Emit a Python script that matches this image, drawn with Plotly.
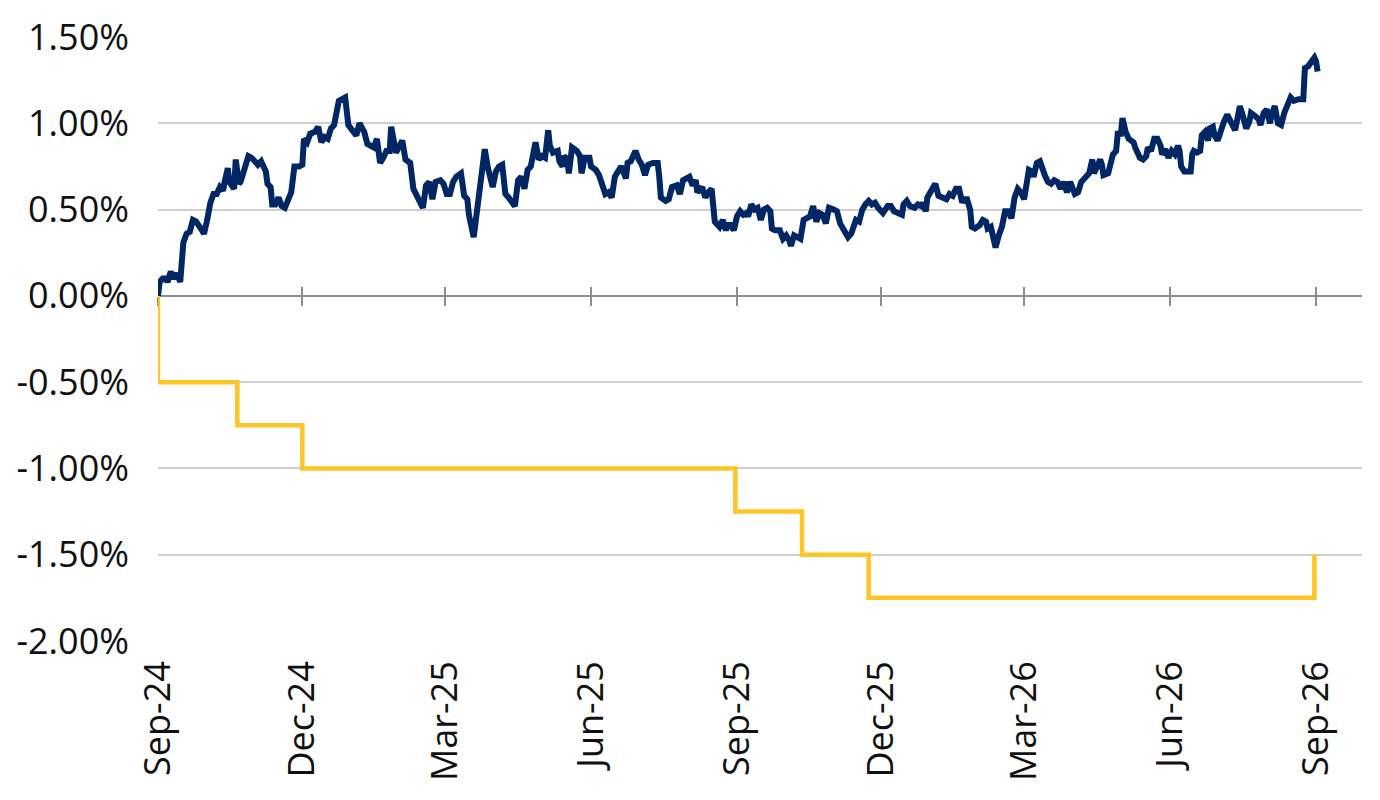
import pandas as pd
import plotly.graph_objects as go

# x axis: quarterly ticks counted from the first cut (18 Sep 2024)
START = pd.Timestamp("2024-09-18")
tick_dates = ["2024-09-18", "2024-12-18", "2025-03-18", "2025-06-18", "2025-09-18",
              "2025-12-18", "2026-03-18", "2026-06-18", "2026-09-18"]
tick_labels = ["Sep-24", "Dec-24", "Mar-25", "Jun-25", "Sep-25",
               "Dec-25", "Mar-26", "Jun-26", "Sep-26"]
x_end = "2026-10-17"

y_tickvals = [-2.0, -1.5, -1.0, -0.5, 0.0, 0.5, 1.0, 1.5]
y_ticktext = ["-2.00%", "-1.50%", "-1.00%", "-0.50%", "0.00%", "0.50%", "1.00%", "1.50%"]

# navy series: days since start, value in %
series_days = [
    0, 1, 3, 5, 6, 8, 10, 12, 14, 16,
    18, 20, 22, 24, 27, 29, 31, 33, 35, 37,
    39, 41, 42, 44, 45, 48, 49, 51, 52, 55,
    57, 59, 61, 63, 65, 68, 69, 71, 72, 74,
    76, 78, 80, 82, 84, 86, 89, 91, 92, 94,
    96, 99, 101, 103, 105, 107, 109, 111, 112, 114,
    116, 118, 120, 122,
    125, 127, 130, 132, 134, 136, 138, 140, 142, 144,
    146, 147, 150, 152, 154, 156, 159, 161, 163, 165,
    167, 169, 171, 173, 175, 178, 180, 182, 184, 186,
    188, 191, 193, 195, 196, 199, 201, 203, 206, 208,
    211, 213, 215, 217, 219, 221, 223, 225, 227, 229,
    231, 233, 235, 237, 238, 240, 242, 244,
    246, 247, 249, 252, 253, 255, 256, 258, 259, 261,
    264, 266, 267, 269, 272, 273, 276, 278, 280, 282,
    284, 286, 288, 290, 292, 295, 296, 298, 301, 303,
    305, 307, 309, 312, 315, 316, 317, 320, 322, 324,
    327, 329, 331, 335, 337, 339, 340, 343, 345, 347,
    349, 351, 354, 356, 358, 359, 361, 363, 365, 367,
    369, 371, 372, 374, 376, 378, 380, 382, 384, 386,
    387, 389, 392, 394, 396, 398, 399, 401, 403, 405,
    407, 409, 411, 413, 415, 417, 419, 421, 423, 426,
    428, 430, 432, 435, 437, 439, 440, 442, 444, 446,
    448, 450, 452, 454, 457, 460, 462, 464, 466, 469,
    470, 472, 474, 477, 479, 481, 482, 484, 485, 488,
    490,
    492, 494, 497, 499, 501, 503, 505, 507, 508, 510,
    512, 513, 515, 518, 520, 522, 523, 525, 526, 528,
    530, 532, 534, 536, 538, 540, 542, 544, 546, 547,
    549, 551, 552, 554, 556, 559, 561, 563, 565, 567,
    569, 571, 573, 575, 578, 580, 582, 584, 586, 587,
    589, 590, 592, 594, 595, 596, 599, 600, 602, 604,
    605, 607, 608, 610, 612,
    615, 616, 619, 621, 623, 624, 626, 628, 630, 632,
    633, 635, 637, 639, 641, 643, 644, 645, 647, 649,
    651, 652, 653, 655, 657, 658, 660, 662, 663, 665,
    666, 668, 670, 672, 674, 676, 679, 681, 682, 684,
    686, 688, 689, 692, 694, 695, 697, 699, 701, 702,
    704, 706, 708, 710, 712, 714, 716, 719, 722, 723,
    725, 727, 729, 730, 731,
]
series_values = [
    0.00, 0.08, 0.10, 0.10, 0.08, 0.14, 0.10, 0.13, 0.08, 0.31,
    0.36, 0.37, 0.44, 0.43, 0.39, 0.36, 0.44, 0.54, 0.59, 0.59,
    0.63, 0.61, 0.66, 0.74, 0.66, 0.62, 0.79, 0.65, 0.66, 0.76,
    0.81, 0.80, 0.78, 0.76, 0.78, 0.72, 0.65, 0.63, 0.53, 0.53,
    0.57, 0.52, 0.51, 0.56, 0.60, 0.75, 0.75, 0.76, 0.91, 0.89,
    0.94, 0.95, 0.98, 0.89, 0.92, 0.91, 0.97, 0.99, 1.04, 1.13,
    1.14, 1.15, 0.99, 0.97,
    0.93, 1.00, 0.95, 0.88, 0.87, 0.86, 0.91, 0.77, 0.80, 0.84,
    0.84, 0.98, 0.83, 0.86, 0.90, 0.79, 0.77, 0.62, 0.58, 0.53,
    0.51, 0.64, 0.66, 0.56, 0.66, 0.67, 0.65, 0.59, 0.59, 0.66,
    0.69, 0.71, 0.58, 0.56, 0.47, 0.34, 0.49, 0.68, 0.85, 0.74,
    0.63, 0.72, 0.75, 0.76, 0.59, 0.57, 0.55, 0.52, 0.67, 0.69,
    0.62, 0.73, 0.75, 0.83, 0.89, 0.79, 0.81, 0.80,
    0.96, 0.87, 0.83, 0.84, 0.78, 0.75, 0.81, 0.79, 0.71, 0.86,
    0.84, 0.81, 0.71, 0.80, 0.80, 0.75, 0.73, 0.70, 0.65, 0.59,
    0.60, 0.57, 0.69, 0.73, 0.75, 0.68, 0.77, 0.78, 0.84, 0.79,
    0.76, 0.70, 0.76, 0.77, 0.77, 0.69, 0.57, 0.55, 0.56, 0.63,
    0.64, 0.59, 0.67, 0.69, 0.64, 0.67, 0.60, 0.63, 0.57, 0.60,
    0.62, 0.43, 0.40, 0.44, 0.38, 0.41, 0.41, 0.38, 0.46, 0.49,
    0.47, 0.48, 0.46, 0.53, 0.50, 0.51, 0.44, 0.50, 0.51, 0.49,
    0.39, 0.38, 0.38, 0.33, 0.35, 0.32, 0.29, 0.35, 0.34, 0.33,
    0.44, 0.45, 0.46, 0.52, 0.43, 0.48, 0.47, 0.42, 0.51, 0.50,
    0.49, 0.42, 0.38, 0.34, 0.36, 0.41, 0.44, 0.43, 0.50, 0.53,
    0.55, 0.53, 0.54, 0.51, 0.48, 0.52, 0.52, 0.49, 0.48, 0.47,
    0.53, 0.55, 0.52, 0.51, 0.53, 0.52, 0.54, 0.49, 0.57, 0.61,
    0.65,
    0.58, 0.57, 0.56, 0.59, 0.58, 0.62, 0.62, 0.54, 0.56, 0.56,
    0.50, 0.40, 0.39, 0.41, 0.44, 0.43, 0.39, 0.40, 0.37, 0.28,
    0.35, 0.40, 0.49, 0.49, 0.45, 0.57, 0.62, 0.60, 0.56, 0.61,
    0.73, 0.72, 0.69, 0.77, 0.78, 0.70, 0.66, 0.65, 0.67, 0.66,
    0.62, 0.66, 0.60, 0.66, 0.59, 0.60, 0.66, 0.68, 0.70, 0.71,
    0.79, 0.71, 0.75, 0.79, 0.76, 0.70, 0.71, 0.75, 0.82, 0.84,
    0.94, 0.94, 1.03, 0.95, 0.91,
    0.89, 0.86, 0.80, 0.79, 0.81, 0.86, 0.84, 0.91, 0.91, 0.87,
    0.82, 0.85, 0.80, 0.84, 0.82, 0.87, 0.84, 0.75, 0.72, 0.72,
    0.72, 0.82, 0.84, 0.83, 0.84, 0.93, 0.95, 0.90, 0.97, 0.98,
    0.93, 0.90, 0.97, 1.01, 1.05, 1.01, 0.96, 1.05, 1.10, 1.04,
    0.97, 1.01, 1.06, 1.04, 1.02, 0.99, 1.06, 1.08, 1.00, 1.05,
    1.10, 1.00, 0.99, 1.06, 1.11, 1.15, 1.13, 1.14, 1.14, 1.32,
    1.33, 1.35, 1.38, 1.36, 1.30,
]

# cumulative policy rate change (step line)
policy_dates = ["2024-09-17", "2024-09-18", "2024-11-07", "2024-12-18", "2025-09-17",
                "2025-10-29", "2025-12-10", "2026-09-17"]
policy_change = [0.00, -0.50, -0.75, -1.00, -1.25, -1.50, -1.75, -1.50]

assert len(series_days) == len(series_values)

NAVY = "#002664"
GOLD = "#FFC526"
AXIS_GREY = "#8c8c8c"
GRID_GREY = "#cfcfcf"
FONT = dict(family="Open Sans", size=36, color="#111111")

series_dates = START + pd.to_timedelta(series_days, unit="D")
x_range = [START, pd.Timestamp(x_end)]
zero_pos = (0 - y_tickvals[0]) / (y_tickvals[-1] - y_tickvals[0])

fig = go.Figure()

fig.add_trace(go.Scatter(
    x=policy_dates, y=policy_change,
    mode="lines", line=dict(color=GOLD, width=4.5, shape="hv"),
    showlegend=False, hoverinfo="skip"
))
fig.add_trace(go.Scatter(
    x=series_dates, y=series_values,
    mode="lines", line=dict(color=NAVY, width=6),
    showlegend=False
))
# empty traces so the zero-line tick axes get drawn
for ax in ["x2", "x3"]:
    fig.add_trace(go.Scatter(x=[None], y=[None], xaxis=ax, showlegend=False, hoverinfo="skip"))

tick_axis = dict(
    type="date", range=x_range, overlaying="x", anchor="free", position=zero_pos,
    tickvals=tick_dates, showticklabels=False, showgrid=False, zeroline=False,
    ticklen=9, tickwidth=2, tickcolor=AXIS_GREY, layer="below traces"
)

fig.update_layout(
    width=1380, height=800,
    margin=dict(l=158, r=18, t=35, b=159),
    paper_bgcolor="white", plot_bgcolor="white",
    font=FONT,
    xaxis=dict(
        type="date", range=x_range,
        tickvals=tick_dates, ticktext=tick_labels, tickangle=-90,
        showgrid=False, zeroline=False, showline=False, ticks="",
        ticklabelstandoff=12
    ),
    xaxis2=dict(tick_axis, ticks="outside", showline=True, linecolor=AXIS_GREY, linewidth=2),
    xaxis3=dict(tick_axis, ticks="inside", showline=False),
    yaxis=dict(
        range=[y_tickvals[0], y_tickvals[-1]],
        tickvals=y_tickvals, ticktext=y_ticktext,
        showgrid=True, gridcolor=GRID_GREY, gridwidth=2,
        zeroline=False, showline=False, ticks="",
        ticklabelstandoff=28
    ),
)

# drop the default page margin so the 1380x800 figure fills the window exactly
fig.write_html("out.html", config={"displayModeBar": False},
               post_script="document.body.style.margin='0';")
